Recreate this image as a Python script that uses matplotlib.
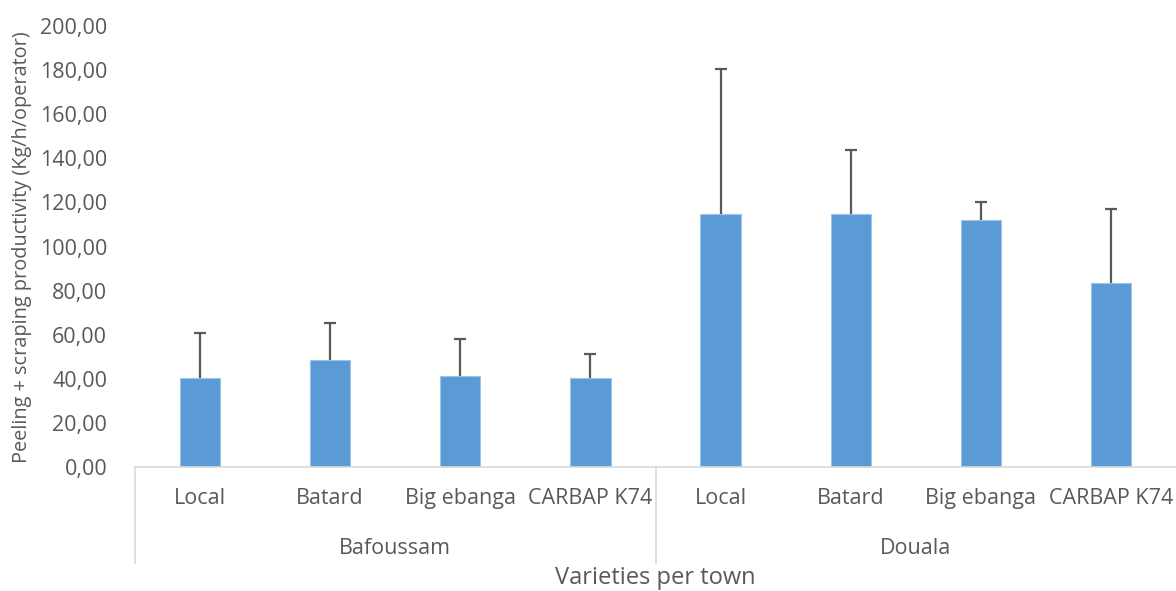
import matplotlib
matplotlib.use("Agg")
import matplotlib.pyplot as plt
import numpy as np

towns = ["Bafoussam", "Douala"]
varieties = ["Local", "Batard", "Big ebanga", "CARBAP K74"]
means_bafoussam = [40.4, 48.5, 41.4, 40.5]
means_douala = [114.9, 114.6, 111.8, 83.4]
err_bafoussam = [20.5, 16.9, 16.5, 10.9]
err_douala = [65.8, 29.3, 8.4, 33.4]
yticks = [0, 20, 40, 60, 80, 100, 120, 140, 160, 180, 200]

plt.rcParams['font.family'] = ['Open Sans', 'DejaVu Sans']

W, H = 1176, 591
fig = plt.figure(figsize=(W / 100, H / 100), dpi=100)
ax = fig.add_axes([135 / W, 1 - 467 / H, 1 - 135 / W, (467 - 26) / H])

means = means_bafoussam + means_douala
errs = err_bafoussam + err_douala
labels = varieties + varieties
x = np.arange(len(means))

ax.bar(x, means, width=0.31, color="#5B9BD5", edgecolor="#9DC3E6", linewidth=0.8, zorder=2)
eb = ax.errorbar(x, means, yerr=[np.zeros(len(errs)), errs], fmt="none",
                 ecolor="#595959", elinewidth=1.6, capsize=4.5, capthick=1.6, zorder=3)
eb[1][0].set_visible(False)

ax.set_xlim(-0.5, len(means) - 0.5)
ax.set_ylim(0, 200)
ax.set_yticks(yticks)
ax.set_yticklabels([f"{v:.2f}".replace(".", ",") for v in yticks], fontsize=15.5, color="#595959")
ax.tick_params(axis="y", length=0, pad=20)
ax.set_xticks(x)
ax.set_xticklabels(labels, fontsize=15.5, color="#595959")
ax.tick_params(axis="x", length=0, pad=23)
for lbl in ax.get_xticklabels():
    lbl.set_verticalalignment("center")

for s in ["top", "right", "left"]:
    ax.spines[s].set_visible(False)
ax.spines["bottom"].set_color("#D9D9D9")
ax.spines["bottom"].set_linewidth(1.2)

trans = ax.get_xaxis_transform()
axh = 467 - 26
for xv in [-0.5, 3.5]:
    ax.plot([xv, xv], [0, -(563 - 467) / axh], transform=trans, color="#D9D9D9",
            linewidth=1.2, clip_on=False)

for i, t in enumerate(towns):
    ax.text(1.5 + 4 * i, -(548 - 467) / axh, t, transform=trans, ha="center", va="center",
            fontsize=15.5, color="#595959")

fig.text((135 + W) / 2 / W, 1 - 578 / H, "Varieties per town", ha="center", va="center",
         fontsize=17, color="#595959")
fig.text(22 / W, 1 - 247 / H, "Peeling + scraping productivity (Kg/h/operator)", rotation=90,
         ha="center", va="center", fontsize=14.3, color="#595959")

fig.savefig("out.png", dpi=100)
